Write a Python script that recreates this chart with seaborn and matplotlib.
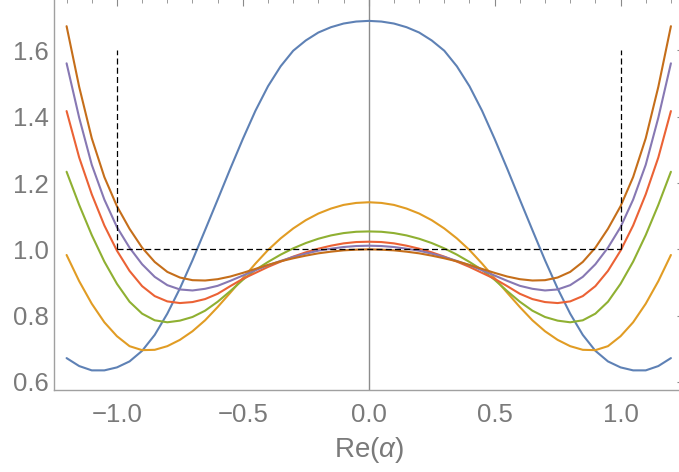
import numpy as np
import pandas as pd
import matplotlib
matplotlib.use("Agg")
import matplotlib.pyplot as plt
import seaborn as sns
from matplotlib.ticker import MultipleLocator

# ---- data (curves are symmetric in x) ----
x_half = [0.0, 0.05, 0.1, 0.15, 0.2, 0.25, 0.3, 0.35, 0.4, 0.45, 0.5, 0.55, 0.6,
          0.65, 0.7, 0.75, 0.8, 0.85, 0.9, 0.95, 1.0, 1.05, 1.1, 1.15, 1.2]

blue_half = [1.689, 1.687, 1.681, 1.670, 1.654, 1.630, 1.599, 1.552, 1.492, 1.418,
             1.333, 1.243, 1.150, 1.058, 0.967, 0.882, 0.806, 0.742, 0.694, 0.662,
             0.644, 0.635, 0.635, 0.648, 0.672]
orange_half = [1.142, 1.140, 1.134, 1.123, 1.108, 1.088, 1.063, 1.033, 0.998, 0.957,
               0.913, 0.869, 0.826, 0.786, 0.753, 0.727, 0.708, 0.697, 0.696, 0.708,
               0.738, 0.780, 0.836, 0.904, 0.983]
green_half = [1.054, 1.053, 1.049, 1.042, 1.032, 1.019, 1.003, 0.984, 0.962, 0.938,
              0.908, 0.874, 0.842, 0.815, 0.796, 0.785, 0.780, 0.786, 0.806, 0.842,
              0.896, 0.963, 1.043, 1.134, 1.234]
red_half = [1.023, 1.022, 1.018, 1.011, 1.002, 0.991, 0.978, 0.963, 0.947, 0.929,
            0.911, 0.889, 0.866, 0.850, 0.841, 0.838, 0.843, 0.859, 0.889, 0.935,
            0.996, 1.072, 1.166, 1.277, 1.417]
purple_half = [1.011, 1.010, 1.007, 1.002, 0.996, 0.987, 0.977, 0.965, 0.952, 0.937,
               0.921, 0.905, 0.890, 0.881, 0.876, 0.879, 0.892, 0.917, 0.955, 1.005,
               1.067, 1.150, 1.255, 1.397, 1.561]
brown_half = [1.000, 0.999, 0.997, 0.993, 0.988, 0.981, 0.973, 0.964, 0.953, 0.941,
              0.929, 0.918, 0.910, 0.906, 0.907, 0.915, 0.932, 0.962, 1.005, 1.062,
              1.130, 1.218, 1.335, 1.490, 1.673]

series_names = ["s1", "s2", "s3", "s4", "s5", "s6"]
series_half = [blue_half, orange_half, green_half, red_half, purple_half, brown_half]
colors = ["#5E81B5", "#E19C24", "#8FB032", "#EB6235", "#8778B3", "#C56E1A"]

ref_x = [-1.0, 1.0]
ref_low = 1.0
ref_high = 1.6

xtick_vals = [-1.0, -0.5, 0.0, 0.5, 1.0]
xtick_labels = ["\u22121.0", "\u22120.5", "0.0", "0.5", "1.0"]
ytick_vals = [0.6, 0.8, 1.0, 1.2, 1.4, 1.6]
ytick_labels = ["0.6", "0.8", "1.0", "1.2", "1.4", "1.6"]


def full_x(h):
    return [-v for v in h[::-1]] + list(h[1:])


def full_y(h):
    return list(h[::-1]) + list(h[1:])


rows = []
for name, half in zip(series_names, series_half):
    for xv, yv in zip(full_x(x_half), full_y(half)):
        rows.append({"x": xv, "y": yv, "series": name})
df = pd.DataFrame(rows)

# ---- style ----
sns.set_style("white")
plt.rcParams["font.family"] = ["Liberation Sans", "DejaVu Sans"]
plt.rcParams["mathtext.fontset"] = "custom"
plt.rcParams["mathtext.rm"] = "Liberation Sans"
plt.rcParams["mathtext.it"] = "Liberation Sans:italic"

gray = "#8a8a8a"
fig = plt.figure(figsize=(6.79, 4.72), dpi=100)
ax = fig.add_axes([54 / 679, 82 / 472, 629.5 / 679, 391 / 472])

ax.axvline(0.0, color="#8c8c8c", lw=1.0, zorder=1)

sns.lineplot(data=df, x="x", y="y", hue="series", hue_order=series_names,
             palette=colors, legend=False, lw=1.5, estimator=None, sort=False,
             ax=ax, zorder=3)
for ln in ax.get_lines():
    ln.set_solid_joinstyle("round")

dash = (0, (4.8, 2.6))
ax.vlines(ref_x, ref_low, ref_high, colors="black", linestyles=dash, lw=0.9, zorder=4)
ax.hlines(ref_low, ref_x[0], ref_x[1], colors="black", linestyles=dash, lw=0.9, zorder=4)

ax.set_xlim(-1.25, 1.25)
ax.set_ylim(0.5758, 1.755)

ax.set_xticks(xtick_vals)
ax.set_xticklabels(xtick_labels)
ax.set_yticks(ytick_vals)
ax.set_yticklabels(ytick_labels)
ax.xaxis.set_minor_locator(MultipleLocator(0.1))
ax.yaxis.set_minor_locator(MultipleLocator(0.05))

ax.tick_params(axis="both", which="both", direction="in", colors=gray,
               labelcolor="#7a7a7a", labelsize=18.5, top=True, right=True)
ax.tick_params(axis="both", which="major", length=5, width=0.8)
ax.tick_params(axis="both", which="minor", length=3, width=0.6)
ax.tick_params(axis="x", which="major", pad=9)
ax.tick_params(axis="y", which="major", pad=4)

for side in ["left", "bottom"]:
    ax.spines[side].set_color("#a0a0a0")
    ax.spines[side].set_linewidth(1.0)
for side in ["top", "right"]:
    ax.spines[side].set_visible(False)

ax.set_xlabel("Re($\\alpha$)", fontsize=20, color="#7a7a7a", labelpad=6)
ax.set_ylabel("")

fig.savefig("out.png", dpi=100)
